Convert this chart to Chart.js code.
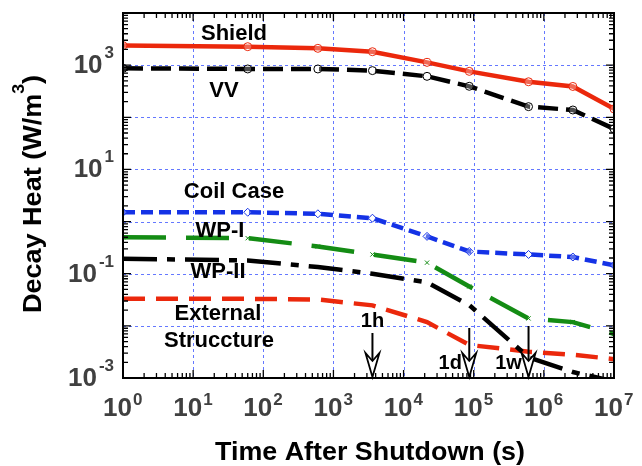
<!DOCTYPE html>
<html><head><meta charset="utf-8">
<script src="https://cdn.jsdelivr.net/npm/chart.js@4/dist/chart.umd.min.js"></script>
<style>html,body{margin:0;padding:0;background:#fff;}canvas{display:block;}</style>
</head><body>
<canvas id="c" width="642" height="466"></canvas>
<script>
// ---- data (time after shutdown in s, decay heat in W/m^3) ----
const times   = [1, 60, 600, 3600, 21600, 86400, 604800, 2592000, 1e7];
const shield  = [2370, 2260, 2100, 1810, 1130, 760, 480, 390, 145];
const vv      = [870, 845, 845, 785, 610, 393, 160, 138, 60];
const coilCase= [1.51, 1.51, 1.41, 1.16, 0.52, 0.267, 0.234, 0.209, 0.145];
const wp1     = [0.50, 0.48, 0.333, 0.234, 0.163, 0.057, 0.0139, 0.0118, 0.007];
const wp2     = [0.194, 0.18, 0.134, 0.10, 0.068, 0.025, 0.0025, 0.0013, 0.00086];
const extStr  = [0.033, 0.033, 0.032, 0.0247, 0.0118, 0.0043, 0.0032, 0.0028, 0.0023];
const xTickExps = [0, 1, 2, 3, 4, 5, 6, 7];
const yTickExps = [-3, -2, -1, 0, 1, 2, 3, 4];
const yLabelExps = [-3, -1, 1, 3];
const markTimes = [3600, 86400, 604800];
const markLabels = ['1h', '1d', '1w'];
const xTitle = 'Time After Shutdown (s)';
const yTitle = 'Decay Heat (W/m';

const FONT = '"Liberation Sans", Arial, sans-serif';
const GRID = 'rgb(100,120,255)';
const pts = arr => times.map((t, i) => ({x: t, y: arr[i]}));

const decor = {
  id: 'decor',
  beforeDatasetsDraw(chart) {
    const ctx = chart.ctx, ca = chart.chartArea;
    const xs = chart.scales.x, ys = chart.scales.y;
    ctx.save();
    ctx.strokeStyle = GRID; ctx.lineWidth = 1;
    ctx.setLineDash([3, 3]);
    ctx.beginPath();
    xs.ticks.forEach(t => {
      const px = Math.round(xs.getPixelForValue(t.value)) + 0.5;
      ctx.moveTo(px, ca.top); ctx.lineTo(px, ca.bottom);
    });
    ys.ticks.forEach(t => {
      const py = Math.round(ys.getPixelForValue(t.value)) + 0.5;
      ctx.moveTo(ca.left, py); ctx.lineTo(ca.right, py);
    });
    ctx.stroke();
    ctx.restore();
  },
  afterDatasetsDraw(chart) {
    const ctx = chart.ctx, ca = chart.chartArea;
    const xs = chart.scales.x, ys = chart.scales.y;
    ctx.save();
    // frame
    ctx.strokeStyle = '#000'; ctx.lineWidth = 2;
    ctx.strokeRect(ca.left, ca.top, ca.right - ca.left, ca.bottom - ca.top);
    // inward ticks
    ctx.lineWidth = 1.3;
    ctx.beginPath();
    for (let e = 0; e < 7; e++) {
      for (let k = 1; k <= 9; k++) {
        const v = k * Math.pow(10, e);
        const px = xs.getPixelForValue(v);
        const L = k === 1 ? 8 : 5;
        ctx.moveTo(px, ca.bottom); ctx.lineTo(px, ca.bottom - L);
        ctx.moveTo(px, ca.top); ctx.lineTo(px, ca.top + L);
      }
    }
    for (let e = -3; e < 4; e++) {
      for (let k = 1; k <= 9; k++) {
        const v = k * Math.pow(10, e);
        const py = ys.getPixelForValue(v);
        const L = k === 1 ? 8 : 5;
        ctx.moveTo(ca.left, py); ctx.lineTo(ca.left + L, py);
        ctx.moveTo(ca.right, py); ctx.lineTo(ca.right - L, py);
      }
    }
    ctx.stroke();

    // tick labels
    ctx.fillStyle = '#404040';
    ctx.textBaseline = 'alphabetic';
    xTickExps.forEach(e => {
      const px = xs.getPixelForValue(Math.pow(10, e));
      ctx.font = 'bold 26px ' + FONT;
      ctx.textAlign = 'right';
      ctx.fillText('10', px + 9, 416);
      ctx.font = 'bold 17px ' + FONT;
      ctx.textAlign = 'left';
      ctx.fillText(String(e), px + 10, 405);
    });
    yLabelExps.forEach(e => {
      const py = ys.getPixelForValue(Math.pow(10, e));
      ctx.font = 'bold 17px ' + FONT;
      ctx.textAlign = 'right';
      const es = String(e);
      const ew = ctx.measureText(es).width;
      ctx.fillText(es, 114, py - 7);
      ctx.font = 'bold 26px ' + FONT;
      ctx.fillText('10', 114 - ew - 2, py + 8);
    });

    // axis titles
    ctx.fillStyle = '#000';
    ctx.font = 'bold 26px ' + FONT;
    ctx.textAlign = 'center';
    let w = ctx.measureText(xTitle).width;
    ctx.save();
    ctx.translate(370, 460);
    ctx.scale(310 / w, 1);
    ctx.fillText(xTitle, 0, 0);
    ctx.restore();

    ctx.save();
    ctx.translate(32, 194);
    ctx.rotate(-Math.PI / 2);
    ctx.font = 'bold 26px ' + FONT;
    const w1 = ctx.measureText(yTitle).width;
    const w3 = ctx.measureText(')').width;
    ctx.font = 'bold 17px ' + FONT;
    const w2 = ctx.measureText('3').width;
    const tot = w1 + w2 + w3;
    const s = 238 / tot;
    ctx.scale(s, 1);
    let x0 = -tot / 2;
    ctx.textAlign = 'left';
    ctx.font = 'bold 26px ' + FONT;
    ctx.fillText(yTitle, x0, 9);
    ctx.font = 'bold 17px ' + FONT;
    ctx.fillText('3', x0 + w1, -8);
    ctx.font = 'bold 26px ' + FONT;
    ctx.fillText(')', x0 + w1 + w2, 9);
    ctx.restore();

    // curve labels
    ctx.font = 'bold 22px ' + FONT;
    ctx.textAlign = 'center';
    const labels = [['Shield', 234, 40], ['VV', 224, 97], ['Coil Case', 234, 198], ['WP-I', 220, 237],
                    ['WP-II', 218, 278], ['External', 218, 320], ['Struccture', 219, 347]];
    labels.forEach(([t, x, y]) => ctx.fillText(t, x, y));

    // arrows
    const tops = [333, 328, 326];
    const lx = [0, -19, -20];
    const ly = [327, 369, 369];
    markTimes.forEach((t, i) => {
      const px = xs.getPixelForValue(t);
      ctx.strokeStyle = '#000'; ctx.lineWidth = 2;
      ctx.beginPath(); ctx.moveTo(px, tops[i]); ctx.lineTo(px, 361); ctx.stroke();
      ctx.beginPath();
      ctx.moveTo(px, 377); ctx.lineTo(px - 7, 353); ctx.lineTo(px, 361); ctx.lineTo(px + 7, 353); ctx.closePath();
      ctx.fillStyle = '#fff'; ctx.fill();
      ctx.lineWidth = 1.8; ctx.stroke();
      ctx.fillStyle = '#000';
      ctx.font = 'bold 20px ' + FONT;
      ctx.textAlign = 'center';
      ctx.fillText(markLabels[i], px + lx[i], ly[i]);
    });
    ctx.restore();
  }
};

const decadeTicks = exps => scale => { scale.ticks = exps.map(e => ({value: Math.pow(10, e)})); };

new Chart(document.getElementById('c'), {
  type: 'line',
  data: {
    datasets: [
      {label: 'Shield', data: pts(shield), borderColor: 'rgb(235,40,12)', borderWidth: 4.5,
       pointStyle: 'circle', pointRadius: 4, pointBorderWidth: 1, pointBorderColor: 'rgb(235,40,12)', pointBackgroundColor: 'rgba(255,255,255,0.3)'},
      {label: 'VV', data: pts(vv), borderColor: '#000', borderWidth: 4.5, borderDash: [20, 8],
       pointStyle: 'circle', pointRadius: 4, pointBorderWidth: 1, pointBorderColor: '#000', pointBackgroundColor: 'rgba(255,255,255,0.3)'},
      {label: 'Coil Case', data: pts(coilCase), borderColor: 'rgb(20,50,230)', borderWidth: 4.5, borderDash: [12, 6],
       pointStyle: 'rectRot', pointRadius: 4, pointBorderWidth: 1, pointBorderColor: 'rgb(20,50,230)', pointBackgroundColor: 'rgba(255,255,255,0.3)'},
      {label: 'WP-I', data: pts(wp1), borderColor: 'rgb(20,140,20)', borderWidth: 4.5, borderDash: [43, 20],
       pointStyle: 'crossRot', pointRadius: 3, pointBorderWidth: 1, pointBorderColor: 'rgb(20,140,20)'},
      {label: 'WP-II', data: pts(wp2), borderColor: '#000', borderWidth: 4.5, borderDash: [34, 10, 8, 10],
       pointRadius: 0},
      {label: 'External Structure', data: pts(extStr), borderColor: 'rgb(235,40,12)', borderWidth: 4.5, borderDash: [22, 11],
       pointRadius: 0}
    ]
  },
  options: {
    responsive: false,
    animation: false,
    layout: {padding: {left: 123, top: 13, right: 28, bottom: 88}},
    elements: {line: {tension: 0}},
    plugins: {legend: {display: false}, tooltip: {enabled: false}},
    scales: {
      x: {type: 'logarithmic', min: 1, max: 1e7,
          afterBuildTicks: decadeTicks(xTickExps),
          ticks: {display: false},
          grid: {display: false, drawTicks: false},
          border: {display: false}},
      y: {type: 'logarithmic', min: 1e-3, max: 1e4,
          afterBuildTicks: decadeTicks(yTickExps),
          ticks: {display: false},
          grid: {display: false, drawTicks: false},
          border: {display: false}}
    }
  },
  plugins: [decor]
});
</script>
</body></html>
